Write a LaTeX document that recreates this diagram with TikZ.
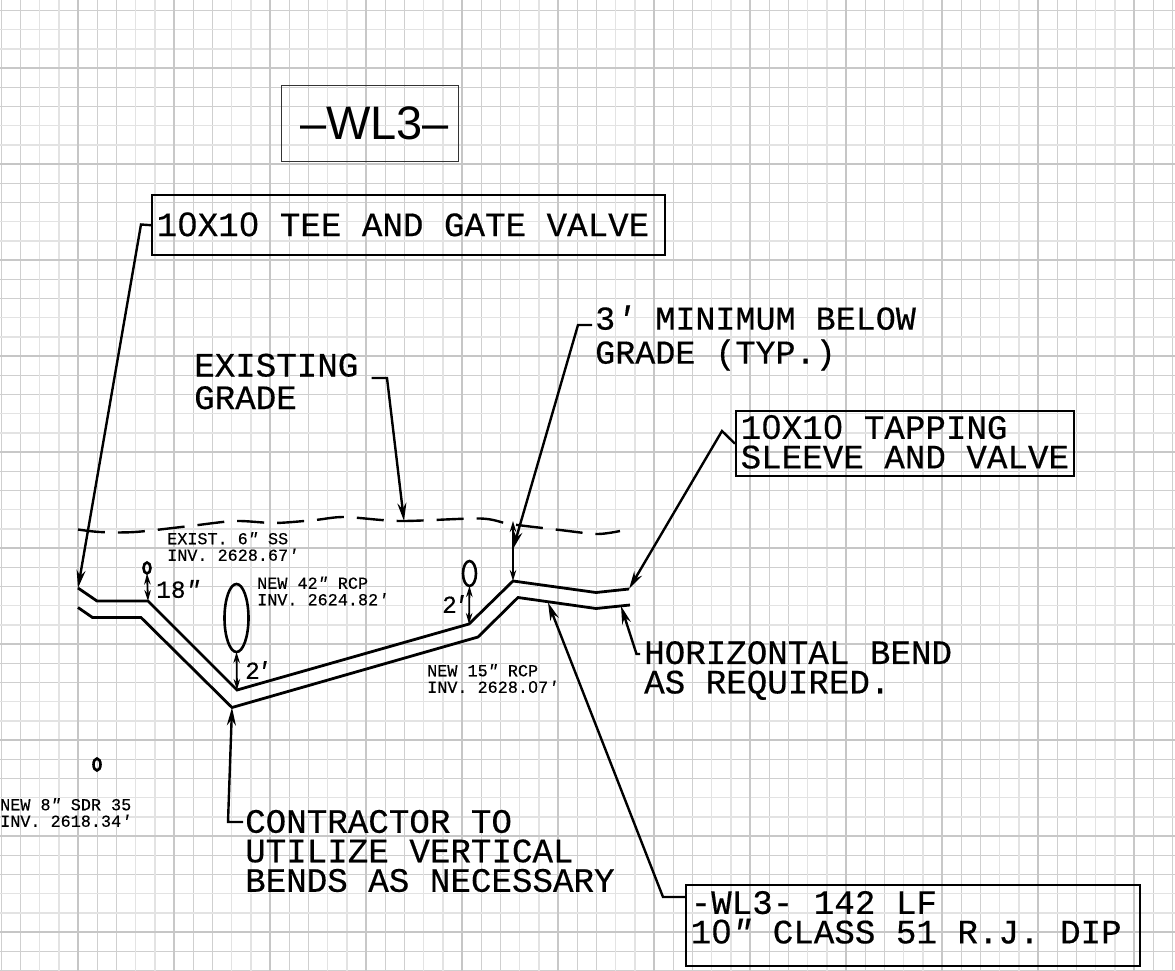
\documentclass[tikz,border=0pt]{standalone}
\usepackage{fontspec}
\usetikzlibrary{arrows.meta,shapes.geometric}
\newfontfamily\cadfont[FakeBold=0.4]{Liberation Mono}
\newfontfamily\noughtfont[FakeBold=0.4]{Liberation Sans}
\newfontfamily\headfont{Liberation Sans}
\newcommand\bigtext{\cadfont\fontsize{34.2}{29.5}\selectfont}
\newcommand\smalltext{\cadfont\fontsize{16.8}{16.5}\selectfont}
\newcommand\dimtext{\cadfont\fontsize{24.5}{24.5}\selectfont}
\newcommand\nought{\makebox[0.6em]{\noughtfont 0}}
\newcommand\ft{{\itshape ′}}
\newcommand\inch{{\itshape ″}}
\tikzset{
  gridnear/.style={draw={rgb,255:red,207;green,207;blue,207}, line width=1.2pt},
  gridfar/.style={draw={rgb,255:red,227;green,227;blue,227}, line width=1.6pt},
  gridmid/.style={draw={rgb,255:red,200;green,200;blue,200}, line width=1.8pt},
  gridheavy/.style={draw={rgb,255:red,198;green,198;blue,198}, line width=2.6pt},
  note/.style={font=\bigtext, align=flush left, inner sep=0pt, anchor=west},
  small/.style={font=\smalltext, align=flush left, inner sep=0pt, anchor=west},
  dimlabel/.style={font=\dimtext, inner sep=0pt, anchor=west},
  callout/.style={draw=black, line width=2.4pt, font=\bigtext, align=flush left, inner ysep=0pt, inner xsep=4.5pt, anchor=north west},
  pipeline/.style={line width=2.8pt, line join=miter},
  leader/.style={line width=2.4pt, -{Stealth[length=18pt,width=9pt]}},
  dimarrow/.style={line width=1.8pt, {Stealth[length=11pt,width=6.5pt]}-{Stealth[length=11pt,width=6.5pt]}},
  crossing/.style={draw=black, ellipse, line width=2.6pt, inner sep=0pt, outer sep=0pt},
}
\begin{document}
\begin{tikzpicture}[x=1pt, y=-1pt]
      \useasboundingbox (0, 0) rectangle (1175, 971);

      % grid
      \foreach \d/\shade in {19.2/gridnear, 38.4/gridnear, 57.6/gridfar, 76.8/gridfar} {
        \foreach \m in {-1,...,11} {
          \draw [\shade] (78 + \m*96 + \d, 0) -- (78 + \m*96 + \d, 971);
        }
        \foreach \m in {-1,...,9} {
          \draw [\shade] (0, 68 + \m*96 + \d) -- (1175, 68 + \m*96 + \d);
        }
      }
      \foreach \m in {-1,...,5} {
        \draw [gridmid] (174 + \m*192, 0) -- (174 + \m*192, 971);
        \draw [gridheavy] (78 + \m*192, 0) -- (78 + \m*192, 971);
        \draw [gridmid] (0, 68 + \m*192) -- (1175, 68 + \m*192);
        \draw [gridheavy] (0, 164 + \m*192) -- (1175, 164 + \m*192);
      }

      % existing grade
      \draw [line width=2.4pt, dash pattern=on 27pt off 13pt] plot [smooth] coordinates
        {(78, 529.5) (100, 532) (135, 532) (190, 526) (235, 521) (275, 523) (315, 520)
         (345, 517) (400, 521) (480, 518.5) (510, 524) (560, 530) (597, 534) (620, 531)};

      % the pipe
      \coordinate (tee) at (78, 588);
      \coordinate (u18) at (148, 601);
      \coordinate (u42) at (237, 690);
      \coordinate (u15) at (469, 624);
      \coordinate (crest) at (513, 581);
      \coordinate (tap) at (629, 589);
      \coordinate (low) at (232, 707.5);
      \coordinate (lowcrest) at (548, 602.5);
      \coordinate (lowbend) at (621, 606);
      \draw [pipeline] (tee) -- (97, 601) -- (u18) -- (u42) -- (u15) -- (crest) -- (596, 592.5) -- (tap);
      \draw [pipeline] (78, 607.5) -- (92.5, 617.5) -- (141, 617.5) -- (low) -- (478, 637) -- (518, 597.5) -- (596, 608.5) -- (630, 605);

      % crossings
      \node [crossing, minimum width=7pt, minimum height=11pt] (ss6) at (147, 568) {};
      \node [crossing, minimum width=24pt, minimum height=68pt] (rcp42) at (236.5, 618) {};
      \node [crossing, minimum width=13pt, minimum height=25pt] (rcp15) at (469.5, 573.5) {};
      \node [crossing, minimum width=7pt, minimum height=12pt] (sdr8) at (97, 764.5) {};

      \node [small] at (167, 546.5) {EXIST. 6\inch{} SS\\INV. 2628.67\ft};
      \node [small] at (257, 591) {NEW 42\inch{} RCP\\INV. 2624.82\ft};
      \node [small] at (427, 678.5) {NEW 15\inch{} RCP\\INV. 2628.\nought 7\ft};
      \node [small] at (0, 812.5) {NEW 8\inch{} SDR 35\\INV. 2618.34\ft};

      \draw [dimarrow] (ss6.south) -- (u18);
      \draw [dimarrow] (rcp42.south) -- (u42);
      \draw [dimarrow] (rcp15.south) -- (u15);
      \coordinate (gradetop) at (513, 521);
      \draw [dimarrow] (gradetop) -- (crest);
      \node [dimlabel] at (156, 589) {18\inch};
      \node [dimlabel] at (245, 670) {2\kern-4pt\ft};
      \node [dimlabel] at (442, 604) {2\kern-4pt\ft};

      % title
      \node [draw=black!80, line width=1pt, minimum width=177pt, minimum height=75pt, font=\headfont\fontsize{47}{47}\selectfont] (title) at (369.5, 123.5) {\kern10pt–WL3–};

      % callouts
      \node [callout, text width=504pt, minimum height=60pt] (teebox) at (151, 194) {1\nought X1\nought{} TEE AND GATE VALVE\rule[-2pt]{0pt}{1pt}};
      \node [callout, text width=329pt, minimum height=65pt] (tapbox) at (735, 410) {1\nought X1\nought{} TAPPING\\SLEEVE AND VALVE\rule[-4pt]{0pt}{1pt}};
      \node [callout, text width=445pt, minimum height=81pt] (dipbox) at (685, 884) {-WL3- 142 LF\\1\nought\inch{} CLASS 51 R.J. DIP\rule[-17pt]{0pt}{1pt}};

      \node [note] (grade) at (194, 381.5) {EXISTING\\[3pt]GRADE};
      \node [note, font=\cadfont\fontsize{33.4}{30}\selectfont] (minimum) at (595, 338) {3\ft{} MINIMUM BELOW\\[4pt]GRADE (TYP.)};
      \node [note] (horizontal) at (644, 670.5) {HORIZONTAL BEND\\AS REQUIRED.};
      \node [note] (vertical) at (245, 851) {CONTRACTOR TO\\UTILIZE VERTICAL\\BENDS AS NECESSARY};

      % leaders
      \coordinate (gradept) at (404, 521);
      \coordinate (belowpt) at (513, 549);
      \draw [leader] (teebox.west) -- (141, 224.5) -- (tee);
      \draw [leader] (grade.east) ++ (13, -3.5) -- (387, 378) -- (gradept);
      \draw [leader] (minimum.west) ++ (-3, -13) -- (578, 325) -- (belowpt);
      \draw [leader] (tapbox.west) -- (722, 431) -- (tap);
      \draw [leader] (vertical.west) ++ (-2, -29) -- (228, 822) -- (low);
      \draw [leader] (horizontal.west) ++ (-4, -16.5) -- (636.5, 654) -- (lowbend);
      \draw [leader] (dipbox.north west) ++ (0, 13) -- (663, 897) -- (lowcrest);
    \end{tikzpicture}
\end{document}
